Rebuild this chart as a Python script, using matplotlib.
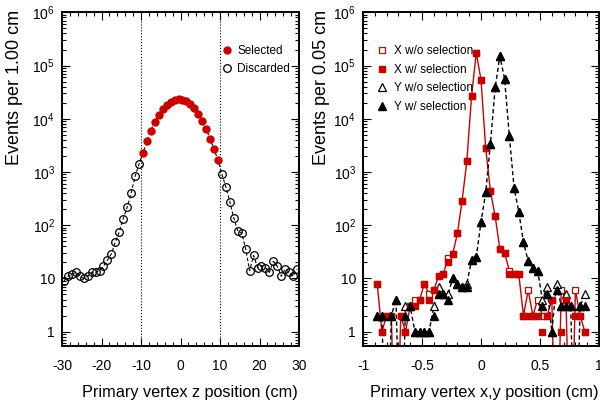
import numpy as np
import matplotlib
matplotlib.use('Agg')
import matplotlib.pyplot as plt
from matplotlib.ticker import (LogLocator, MultipleLocator, FixedLocator,
                               FuncFormatter, NullFormatter)

plt.rcParams['font.family'] = ['Liberation Sans', 'DejaVu Sans']
plt.rcParams['mathtext.default'] = 'regular'
plt.rcParams['axes.unicode_minus'] = False

# Left panel: z position, 1 cm bins
z_edges = np.arange(-30, 31, 1.0)
z_centers = 0.5 * (z_edges[:-1] + z_edges[1:])

discarded_low = [9, 11, 12, 13, 11, 10, 11, 13, 13, 14, 17, 22, 29, 48, 75,
                 133, 219, 401, 824, 1425]
selected = [2270, 3770, 6000, 8700, 11900, 15200, 18300, 20400, 22300, 23300,
            22900, 21300, 19000, 15900, 12500, 9200, 6500, 4170, 2660, 1650]
discarded_high = [898, 519, 272, 136, 78, 71, 36, 14, 27, 16, 17, 16, 13, 21,
                  17, 11, 15, 13, 11, 15]
z_cut = 10

# Right panel: x,y position
xy_lo, xy_bin, n_xy = -0.9, 0.04, 45
xy_centers = xy_lo + xy_bin * (np.arange(n_xy) + 0.5)

x_wo = [8, 1, 2, 2, 0, 2, 1, 3, 4, 4, 8, 5, 6, 11, 12, 24, 29, 70, 290, 1590,
        26700, 174000, 54000, 2800, 437, 147, 36, 30, 14, 12, 12, 2, 6, 2, 4,
        2, 2, 4, 0, 6, 4, 0, 6, 2, 1]
x_w = [8, 1, 2, 2, 0, 2, 1, 3, 3, 4, 8, 4, 6, 11, 12, 20, 29, 70, 290, 1590,
       26700, 174000, 54000, 2800, 437, 147, 36, 30, 12, 12, 12, 2, 2, 2, 2,
       1, 2, 4, 0, 1, 4, 0, 2, 2, 1]
y_wo = [2, 2, 0, 2, 4, 0, 3, 3, 1, 1, 1, 1, 3, 7, 5, 5, 10, 8, 7, 8, 22, 25,
        115, 415, 3400, 38700, 151000, 55600, 4800, 510, 180, 48, 21, 16, 14,
        4, 7, 1, 8, 3, 5, 3, 0, 3, 5]
y_w = [2, 2, 0, 2, 4, 0, 2, 3, 1, 1, 1, 1, 2, 5, 5, 4, 10, 8, 7, 7, 22, 25,
       115, 415, 3400, 38700, 151000, 55600, 4800, 510, 180, 48, 21, 16, 14,
       3, 5, 1, 6, 3, 3, 3, 0, 3, 3]

y_decades = [1, 10, 100, 1e3, 1e4, 1e5, 1e6]

RED = '#c80000'


def for_markers(vals):
    v = np.array(vals, dtype=float)
    v[v <= 0] = np.nan
    return v


def for_line(vals):
    v = np.array(vals, dtype=float)
    v[v <= 0] = 1e-3
    return v


def log_label(val, pos):
    if val == 1:
        return '1'
    if val == 10:
        return '10'
    return '$10^{%d}$' % round(np.log10(val))


def style_axes(ax):
    ax.set_yscale('log')
    ax.set_ylim(0.55, 1e6)
    ax.yaxis.set_major_locator(FixedLocator(y_decades))
    ax.yaxis.set_minor_locator(LogLocator(base=10, subs=np.arange(2, 10), numticks=20))
    ax.yaxis.set_major_formatter(FuncFormatter(log_label))
    ax.yaxis.set_minor_formatter(NullFormatter())
    ax.tick_params(which='both', direction='in', top=True, right=True,
                   labelsize=10, width=0.8)
    ax.tick_params(which='major', length=6)
    ax.tick_params(axis='x', which='major', pad=10)
    ax.tick_params(axis='y', which='major', pad=5)
    ax.tick_params(which='minor', length=3, labelleft=False, labelbottom=False)
    for sp in ax.spines.values():
        sp.set_linewidth(1.4)


W, H = 600, 408
fig = plt.figure(figsize=(6, 4.08), dpi=100)
bottom = 1 - 345.5 / H
height = (345.5 - 12.3) / H
ax1 = fig.add_axes([62 / W, bottom, 237 / W, height])
ax2 = fig.add_axes([363 / W, bottom, 236 / W, height])

# left panel
all_z = discarded_low + selected + discarded_high
ax1.plot(z_centers, all_z, color='black', lw=0.8, ls=(0, (3, 2)), zorder=2)
low_mask = z_centers < -z_cut
high_mask = z_centers > z_cut
mid_mask = ~(low_mask | high_mask)
ax1.plot(z_centers[mid_mask], selected, 'o', color=RED, ms=5, ls='none',
         label='Selected', zorder=3)
ax1.plot(np.concatenate([z_centers[low_mask], z_centers[high_mask]]),
         discarded_low + discarded_high, 'o', mfc='none', mec='black', mew=0.9,
         ms=5.5, ls='none', label='Discarded', zorder=3)
ax1.axvline(-z_cut, color='black', ls=':', lw=0.8)
ax1.axvline(z_cut, color='black', ls=':', lw=0.8)
style_axes(ax1)
ax1.set_xlim(-30, 30)
ax1.xaxis.set_major_locator(MultipleLocator(10))
ax1.xaxis.set_minor_locator(MultipleLocator(2))
ax1.legend(loc='upper left', bbox_to_anchor=(0.655, 0.915), frameon=False,
           fontsize=8.5, handlelength=0.8, handletextpad=0.5, labelspacing=0.5,
           borderaxespad=0)

# right panel
ax2.plot(xy_centers, for_line(x_wo), color=RED, lw=1.0, zorder=2)
ax2.plot(xy_centers, for_line(y_wo), color='black', lw=1.0, ls=(0, (3, 2)), zorder=2)
ax2.plot(xy_centers, for_markers(x_wo), 's', mfc='white', mec=RED, mew=0.9,
         ms=4, ls='none', label='X w/o selection', zorder=3)
ax2.plot(xy_centers, for_markers(x_w), 's', color=RED, ms=4, ls='none',
         label='X w/ selection', zorder=4)
ax2.plot(xy_centers, for_markers(y_wo), '^', mfc='white', mec='black', mew=0.9,
         ms=6, ls='none', label='Y w/o selection', zorder=3)
ax2.plot(xy_centers, for_markers(y_w), '^', color='black', ms=6, ls='none',
         label='Y w/ selection', zorder=4)
style_axes(ax2)
ax2.set_xlim(-1, 1)
ax2.xaxis.set_major_locator(MultipleLocator(0.5))
ax2.xaxis.set_minor_locator(MultipleLocator(0.1))
ax2.xaxis.set_major_formatter(FuncFormatter(lambda v, p: '%g' % v))
ax2.legend(loc='upper left', bbox_to_anchor=(0.04, 0.915), frameon=False,
           fontsize=8.5, handlelength=0.8, handletextpad=0.6, labelspacing=0.55,
           borderaxespad=0)

# axis titles, right-aligned at the axis ends like the original
fig.text(298 / W, 1 - 393 / H, 'Primary vertex z position (cm)', fontsize=11.7,
         ha='right', va='center')
fig.text(598 / W, 1 - 393 / H, 'Primary vertex x,y position (cm)', fontsize=11.7,
         ha='right', va='center')
fig.text(15 / W, 1 - 10 / H, 'Events per 1.00 cm', fontsize=13, rotation=90,
         ha='center', va='top')
fig.text(322 / W, 1 - 10 / H, 'Events per 0.05 cm', fontsize=13, rotation=90,
         ha='center', va='top')

fig.savefig('out.png', dpi=100)
